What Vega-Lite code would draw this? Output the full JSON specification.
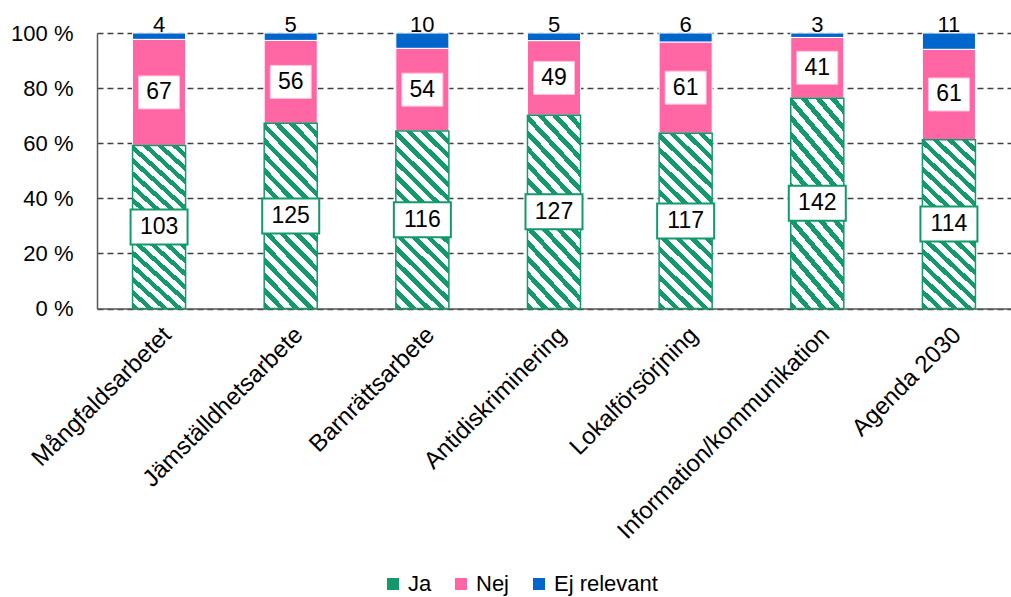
{
  "$schema": "https://vega.github.io/schema/vega-lite/v6.json",
  "width": 914,
  "height": 275.5,
  "autosize": {"type": "none"},
  "padding": {"left": 97, "top": 33, "right": 0, "bottom": 288.5},
  "background": "white",
  "config": {
    "font": "Liberation Sans",
    "view": {"stroke": null},
    "axis": {"labelFont": "Liberation Sans", "labelColor": "#000000", "labelFontSize": 22, "title": null}
  },
  "data": {
    "values": [
      {"cat": "Mångfaldsarbetet", "series": "Ja", "n": 103, "ord": 1},
      {"cat": "Mångfaldsarbetet", "series": "Nej", "n": 67, "ord": 2},
      {"cat": "Mångfaldsarbetet", "series": "Ej relevant", "n": 4, "ord": 3},
      {"cat": "Jämställdhetsarbete", "series": "Ja", "n": 125, "ord": 1},
      {"cat": "Jämställdhetsarbete", "series": "Nej", "n": 56, "ord": 2},
      {"cat": "Jämställdhetsarbete", "series": "Ej relevant", "n": 5, "ord": 3},
      {"cat": "Barnrättsarbete", "series": "Ja", "n": 116, "ord": 1},
      {"cat": "Barnrättsarbete", "series": "Nej", "n": 54, "ord": 2},
      {"cat": "Barnrättsarbete", "series": "Ej relevant", "n": 10, "ord": 3},
      {"cat": "Antidiskriminering", "series": "Ja", "n": 127, "ord": 1},
      {"cat": "Antidiskriminering", "series": "Nej", "n": 49, "ord": 2},
      {"cat": "Antidiskriminering", "series": "Ej relevant", "n": 5, "ord": 3},
      {"cat": "Lokalförsörjning", "series": "Ja", "n": 117, "ord": 1},
      {"cat": "Lokalförsörjning", "series": "Nej", "n": 61, "ord": 2},
      {"cat": "Lokalförsörjning", "series": "Ej relevant", "n": 6, "ord": 3},
      {"cat": "Information/kommunikation", "series": "Ja", "n": 142, "ord": 1},
      {"cat": "Information/kommunikation", "series": "Nej", "n": 41, "ord": 2},
      {"cat": "Information/kommunikation", "series": "Ej relevant", "n": 3, "ord": 3},
      {"cat": "Agenda 2030", "series": "Ja", "n": 114, "ord": 1},
      {"cat": "Agenda 2030", "series": "Nej", "n": 61, "ord": 2},
      {"cat": "Agenda 2030", "series": "Ej relevant", "n": 11, "ord": 3}
    ]
  },
  "encoding": {
    "x": {
      "field": "cat",
      "type": "nominal",
      "sort": null,
      "scale": {"paddingInner": 0.597, "paddingOuter": 0.27},
      "axis": {
        "labelAngle": -45,
        "labelAlign": "right",
        "labelBaseline": "top",
        "labelPadding": 14,
        "labelFontSize": 24,
        "labelLimit": 0,
        "ticks": false,
        "domain": true,
        "domainColor": "#595959",
        "domainWidth": 1.5,
        "grid": false,
        "title": null
      }
    }
  },
  "layer": [
    {
      "mark": {"type": "bar", "stroke": "white", "strokeWidth": 1},
      "encoding": {
        "y": {
          "field": "n",
          "type": "quantitative",
          "stack": "normalize",
          "scale": {"domain": [0, 1]},
          "axis": {
            "values": [0, 0.2, 0.4, 0.6, 0.8, 1],
            "labelExpr": "round(datum.value*100) + ' %'",
            "grid": true,
            "gridDash": [6, 4],
            "gridColor": "#404040",
            "gridWidth": 1.3,
            "domain": true,
            "domainColor": "#595959",
            "domainWidth": 1.5,
            "ticks": false,
            "tickSize": 0,
            "labelPadding": 24,
            "title": null
          }
        },
        "color": {
          "field": "series",
          "type": "nominal",
          "scale": {"domain": ["Ja", "Nej", "Ej relevant"], "range": ["#13996B", "#FF66A3", "#0066CC"]},
          "legend": {
            "orient": "none",
            "legendX": 285,
            "legendY": 540,
            "direction": "horizontal",
            "title": null,
            "symbolType": "square",
            "symbolSize": 144,
            "symbolStrokeWidth": 0,
            "labelFontSize": 22,
            "labelColor": "#000000",
            "labelOffset": 4,
            "columnPadding": 18,
            "padding": 0
          }
        },
        "order": {"field": "ord", "type": "quantitative"}
      }
    },
    {
      "mark": {
        "type": "bar",
        "stroke": "#13996B",
        "strokeWidth": 1.5,
        "fill": {
          "gradient": "linear",
          "x1": 0, "y1": 1, "x2": 0.35, "y2": -0.191,
          "stops": [
            {"offset": 0, "color": "#13996B"}, {"offset": 0.0281, "color": "#13996B"}, {"offset": 0.0281, "color": "#ffffff"}, {"offset": 0.0625, "color": "#ffffff"},
            {"offset": 0.0625, "color": "#13996B"}, {"offset": 0.0906, "color": "#13996B"}, {"offset": 0.0906, "color": "#ffffff"}, {"offset": 0.125, "color": "#ffffff"},
            {"offset": 0.125, "color": "#13996B"}, {"offset": 0.1531, "color": "#13996B"}, {"offset": 0.1531, "color": "#ffffff"}, {"offset": 0.1875, "color": "#ffffff"},
            {"offset": 0.1875, "color": "#13996B"}, {"offset": 0.2156, "color": "#13996B"}, {"offset": 0.2156, "color": "#ffffff"}, {"offset": 0.25, "color": "#ffffff"},
            {"offset": 0.25, "color": "#13996B"}, {"offset": 0.2781, "color": "#13996B"}, {"offset": 0.2781, "color": "#ffffff"}, {"offset": 0.3125, "color": "#ffffff"},
            {"offset": 0.3125, "color": "#13996B"}, {"offset": 0.3406, "color": "#13996B"}, {"offset": 0.3406, "color": "#ffffff"}, {"offset": 0.375, "color": "#ffffff"},
            {"offset": 0.375, "color": "#13996B"}, {"offset": 0.4031, "color": "#13996B"}, {"offset": 0.4031, "color": "#ffffff"}, {"offset": 0.4375, "color": "#ffffff"},
            {"offset": 0.4375, "color": "#13996B"}, {"offset": 0.4656, "color": "#13996B"}, {"offset": 0.4656, "color": "#ffffff"}, {"offset": 0.5, "color": "#ffffff"},
            {"offset": 0.5, "color": "#13996B"}, {"offset": 0.5281, "color": "#13996B"}, {"offset": 0.5281, "color": "#ffffff"}, {"offset": 0.5625, "color": "#ffffff"},
            {"offset": 0.5625, "color": "#13996B"}, {"offset": 0.5906, "color": "#13996B"}, {"offset": 0.5906, "color": "#ffffff"}, {"offset": 0.625, "color": "#ffffff"},
            {"offset": 0.625, "color": "#13996B"}, {"offset": 0.6531, "color": "#13996B"}, {"offset": 0.6531, "color": "#ffffff"}, {"offset": 0.6875, "color": "#ffffff"},
            {"offset": 0.6875, "color": "#13996B"}, {"offset": 0.7156, "color": "#13996B"}, {"offset": 0.7156, "color": "#ffffff"}, {"offset": 0.75, "color": "#ffffff"},
            {"offset": 0.75, "color": "#13996B"}, {"offset": 0.7781, "color": "#13996B"}, {"offset": 0.7781, "color": "#ffffff"}, {"offset": 0.8125, "color": "#ffffff"},
            {"offset": 0.8125, "color": "#13996B"}, {"offset": 0.8406, "color": "#13996B"}, {"offset": 0.8406, "color": "#ffffff"}, {"offset": 0.875, "color": "#ffffff"},
            {"offset": 0.875, "color": "#13996B"}, {"offset": 0.9031, "color": "#13996B"}, {"offset": 0.9031, "color": "#ffffff"}, {"offset": 0.9375, "color": "#ffffff"},
            {"offset": 0.9375, "color": "#13996B"}, {"offset": 0.9656, "color": "#13996B"}, {"offset": 0.9656, "color": "#ffffff"}, {"offset": 1, "color": "#ffffff"}
          ]
        }
      },
      "encoding": {
        "y": {
          "field": "n",
          "type": "quantitative",
          "stack": "normalize",
          "axis": {
            "values": [0, 0.2, 0.4, 0.6, 0.8, 1],
            "labelExpr": "round(datum.value*100) + ' %'",
            "grid": true,
            "gridDash": [6, 4],
            "gridColor": "#404040",
            "gridWidth": 1.3,
            "domain": true,
            "domainColor": "#595959",
            "domainWidth": 1.5,
            "ticks": false,
            "tickSize": 0,
            "labelPadding": 24,
            "title": null
          }
        },
        "detail": {"field": "series", "type": "nominal"},
        "order": {"field": "ord", "type": "quantitative"},
        "opacity": {"condition": {"test": "datum.series === 'Ja'", "value": 1}, "value": 0}
      }
    },
    {
      "mark": {"type": "point", "filled": true, "fill": "white", "size": 3600, "opacity": 1},
      "encoding": {
        "y": {
          "field": "n",
          "type": "quantitative",
          "stack": "normalize",
          "bandPosition": 0.5,
          "axis": {
            "values": [0, 0.2, 0.4, 0.6, 0.8, 1],
            "labelExpr": "round(datum.value*100) + ' %'",
            "grid": true,
            "gridDash": [6, 4],
            "gridColor": "#404040",
            "gridWidth": 1.3,
            "domain": true,
            "domainColor": "#595959",
            "domainWidth": 1.5,
            "ticks": false,
            "tickSize": 0,
            "labelPadding": 24,
            "title": null
          }
        },
        "detail": {"field": "series", "type": "nominal"},
        "order": {"field": "ord", "type": "quantitative"},
        "shape": {
          "condition": {"test": "datum.series === 'Ja'", "value": "M-0.95,-0.583L0.95,-0.583L0.95,0.583L-0.95,0.583Z"},
          "value": "M-0.683,-0.55L0.683,-0.55L0.683,0.55L-0.683,0.55Z"
        },
        "stroke": {"condition": {"test": "datum.series === 'Ja'", "value": "#13996B"}, "value": "#FFC2DA"},
        "strokeWidth": {"condition": {"test": "datum.series === 'Ja'", "value": 2}, "value": 1},
        "opacity": {"condition": {"test": "datum.series === 'Ej relevant'", "value": 0}, "value": 1}
      }
    },
    {
      "mark": {"type": "text", "fontSize": 23, "baseline": "middle", "align": "center", "color": "#000000"},
      "encoding": {
        "y": {
          "field": "n",
          "type": "quantitative",
          "stack": "normalize",
          "bandPosition": 0.5,
          "axis": {
            "values": [0, 0.2, 0.4, 0.6, 0.8, 1],
            "labelExpr": "round(datum.value*100) + ' %'",
            "grid": true,
            "gridDash": [6, 4],
            "gridColor": "#404040",
            "gridWidth": 1.3,
            "domain": true,
            "domainColor": "#595959",
            "domainWidth": 1.5,
            "ticks": false,
            "tickSize": 0,
            "labelPadding": 24,
            "title": null
          }
        },
        "detail": {"field": "series", "type": "nominal"},
        "order": {"field": "ord", "type": "quantitative"},
        "text": {"field": "n", "type": "quantitative"},
        "opacity": {"condition": {"test": "datum.series === 'Ej relevant'", "value": 0}, "value": 1}
      }
    },
    {
      "mark": {"type": "text", "fontSize": 22, "baseline": "alphabetic", "align": "center", "dy": -1, "color": "#000000"},
      "encoding": {
        "y": {
          "field": "n",
          "type": "quantitative",
          "stack": "normalize",
          "axis": {
            "values": [0, 0.2, 0.4, 0.6, 0.8, 1],
            "labelExpr": "round(datum.value*100) + ' %'",
            "grid": true,
            "gridDash": [6, 4],
            "gridColor": "#404040",
            "gridWidth": 1.3,
            "domain": true,
            "domainColor": "#595959",
            "domainWidth": 1.5,
            "ticks": false,
            "tickSize": 0,
            "labelPadding": 24,
            "title": null
          }
        },
        "detail": {"field": "series", "type": "nominal"},
        "order": {"field": "ord", "type": "quantitative"},
        "text": {"field": "n", "type": "quantitative"},
        "opacity": {"condition": {"test": "datum.series === 'Ej relevant'", "value": 1}, "value": 0}
      }
    }
  ]
}
